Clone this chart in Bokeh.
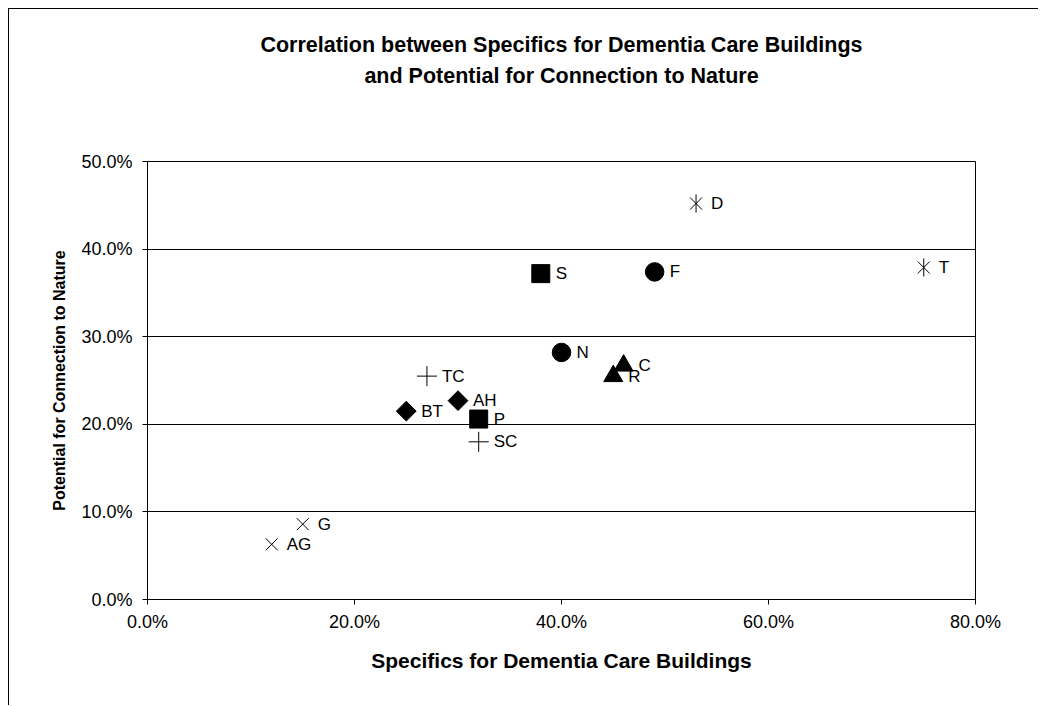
import numpy as np
from bokeh.plotting import figure
from bokeh.models import Range1d, LabelSet, ColumnDataSource, NumeralTickFormatter, FixedTicker, Title
from bokeh.core.properties import value
from bokeh.embed import file_html
from bokeh.resources import INLINE

# ---------------- data ----------------
title_lines = ["Correlation between Specifics for Dementia Care Buildings",
               "and Potential for Connection to Nature"]
x_title = "Specifics for Dementia Care Buildings"
y_title = "Potential for Connection to Nature"

x_ticks = [0.0, 0.2, 0.4, 0.6, 0.8]
y_ticks = [0.0, 0.1, 0.2, 0.3, 0.4, 0.5]

square_names = ["S", "P"]
square_x = [0.38, 0.32]
square_y = [0.372, 0.206]

circle_names = ["F", "N"]
circle_x = [0.49, 0.40]
circle_y = [0.374, 0.282]

triangle_names = ["C", "R"]
triangle_x = [0.46, 0.45]
triangle_y = [0.267, 0.255]

plus_names = ["TC", "SC"]
plus_x = [0.27, 0.32]
plus_y = [0.255, 0.180]

diamond_names = ["BT", "AH"]
diamond_x = [0.25, 0.30]
diamond_y = [0.215, 0.227]

cross_names = ["G", "AG"]
cross_x = [0.15, 0.12]
cross_y = [0.086, 0.063]

star_names = ["D", "T"]
star_x = [0.53, 0.75]
star_y = [0.452, 0.379]

# ---------------- layout ----------------
W, H = 1030, 697
FL, FT = 138, 152          # frame offsets inside the canvas
FW, FH = 828, 438
FONT = "Liberation Sans"

p = figure(width=W, height=H, output_backend="svg", toolbar_location=None,
           x_range=Range1d(0, 0.8), y_range=Range1d(0, 0.5),
           min_border_left=FL, min_border_top=FT,
           min_border_right=W - FL - FW, min_border_bottom=H - FT - FH,
           background_fill_color="white", border_fill_color="white",
           title=None,
           styles={"border-left": "1px solid black", "border-top": "1px solid black"})
p.margin = (8, 0, 0, 8)

p.outline_line_color = "black"
p.outline_line_width = 1
p.xgrid.visible = False
p.ygrid.ticker = FixedTicker(ticks=y_ticks)
p.ygrid.grid_line_color = "black"
p.ygrid.grid_line_width = 1

for ax, ticks, so in ((p.xaxis, x_ticks, 7), (p.yaxis, y_ticks, 10)):
    ax.ticker = FixedTicker(ticks=ticks)
    ax.formatter = NumeralTickFormatter(format="0.0%")
    ax.axis_line_color = "black"
    ax.major_tick_line_color = "black"
    ax.major_tick_in = 0
    ax.major_tick_out = 5
    ax.minor_tick_line_color = None
    ax.major_label_text_font = FONT
    ax.major_label_text_font_size = "18px"
    ax.major_label_text_color = "black"
    ax.major_label_standoff = so
    ax.axis_label_text_font = FONT
    ax.axis_label_text_font_style = "bold"
    ax.axis_label_text_color = "black"

p.xaxis.axis_label = x_title
p.xaxis.axis_label_text_font_size = "21px"
p.xaxis.axis_label_standoff = 14
p.yaxis.axis_label = y_title
p.yaxis.axis_label_text_font_size = "16px"
p.yaxis.axis_label_standoff = 10

black = "black"
def series(xs, ys, names, **kw):
    src = ColumnDataSource(dict(x=xs, y=ys, name=names))
    p.scatter("x", "y", source=src, line_color=black, **kw)
    p.add_layout(LabelSet(x="x", y="y", text="name", source=src, x_offset=15, y_offset=0,
                          text_baseline="middle", text_align="left",
                          text_font=value(FONT), text_font_size=value("17px"), text_color=black))
    return src

series(square_x, square_y, square_names, marker="square", size=18, fill_color=black)
series(circle_x, circle_y, circle_names, marker="circle", size=18.5, fill_color=black)
series(triangle_x, triangle_y, triangle_names, marker="triangle", size=19, fill_color=black)
series(plus_x, plus_y, plus_names, marker="cross", size=20, line_width=1)
series(diamond_x, diamond_y, diamond_names, marker="square", angle=np.pi / 4, size=14, fill_color=black)
series(cross_x, cross_y, cross_names, marker="x", size=17, line_width=1)
src = series(star_x, star_y, star_names, marker="x", size=17, line_width=1)
p.scatter("x", "y", source=src, marker="dash", angle=np.pi / 2, size=18, line_color=black, line_width=1)

# chart title: spacer nearest the frame, then line 2, then line 1
p.add_layout(Title(text=" ", align="center", text_font=FONT, text_font_size="20px",
                   standoff=47), "above")
p.add_layout(Title(text=title_lines[1], align="center", text_font=FONT, text_font_style="bold",
                   text_font_size="21.5px", text_color=black, standoff=5), "above")
p.add_layout(Title(text=title_lines[0], align="center", text_font=FONT, text_font_style="bold",
                   text_font_size="21.5px", text_color=black, standoff=5), "above")

open("out.html", "w").write(file_html(p, INLINE))
